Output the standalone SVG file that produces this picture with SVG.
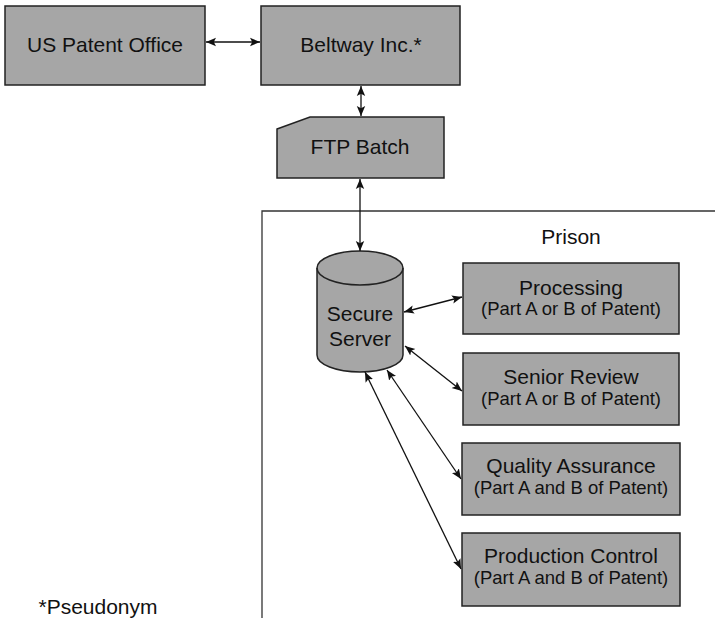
<svg xmlns="http://www.w3.org/2000/svg" width="715" height="618" viewBox="0 0 715 618">
  <defs>
    <marker id="arrow" viewBox="0 0 10 10" refX="10" refY="5" markerWidth="10" markerHeight="10" markerUnits="userSpaceOnUse" orient="auto-start-reverse">
      <path d="M0,0.8 L10,5 L0,9.2 L2.2,5 Z" fill="#111"/>
    </marker>
    <style>
      .box { fill: #a6a6a6; stroke: #222; stroke-width: 1.5; }
      .frame { fill: none; stroke: #333; stroke-width: 1.3; }
      .link { fill: none; stroke: #111; stroke-width: 1.3; marker-start: url(#arrow); marker-end: url(#arrow); }
      text { font-family: "Liberation Sans", Arial, sans-serif; fill: #111; text-anchor: middle; }
      .t { font-size: 21px; }
      .s { font-size: 18.5px; }
    </style>
  </defs>

  <!-- prison boundary -->
  <g id="prison">
    <path class="frame" d="M262,618 L262,211 L715,211"/>
    <text class="t" x="571" y="244">Prison</text>
  </g>

  <g id="us-patent-office">
    <rect class="box" x="5" y="6" width="200" height="79"/>
    <text class="t" x="105" y="52">US Patent Office</text>
  </g>

  <g id="beltway">
    <rect class="box" x="261" y="6" width="199" height="79"/>
    <text class="t" x="361" y="52">Beltway Inc.*</text>
  </g>

  <g id="ftp-batch">
    <path class="box" d="M277,129 L310,117 L444,117 L444,178 L277,178 Z"/>
    <text class="t" x="360" y="154">FTP Batch</text>
  </g>

  <g id="secure-server">
    <path class="box" d="M317,268 L317,355 A43,17 0 0 0 403,355 L403,268 A43,17 0 0 0 317,268 Z"/>
    <path fill="none" stroke="#222" stroke-width="1.5" d="M317,268 A43,17 0 0 0 403,268"/>
    <text class="t" x="360" y="321">Secure</text>
    <text class="t" x="360" y="346">Server</text>
  </g>

  <g id="processing">
    <rect class="box" x="463" y="263" width="216" height="71"/>
    <text class="t" x="571" y="295">Processing</text>
    <text class="s" x="571" y="315">(Part A or B of Patent)</text>
  </g>

  <g id="senior-review">
    <rect class="box" x="463" y="353" width="216" height="72"/>
    <text class="t" x="571" y="384">Senior Review</text>
    <text class="s" x="571" y="405">(Part A or B of Patent)</text>
  </g>

  <g id="quality-assurance">
    <rect class="box" x="462" y="443" width="218" height="72"/>
    <text class="t" x="571" y="473">Quality Assurance</text>
    <text class="s" x="571" y="494">(Part A and B of Patent)</text>
  </g>

  <g id="production-control">
    <rect class="box" x="462" y="533" width="218" height="73"/>
    <text class="t" x="571" y="563">Production Control</text>
    <text class="s" x="571" y="584">(Part A and B of Patent)</text>
  </g>

  <g id="footnote">
    <text class="t" x="98" y="614">*Pseudonym</text>
  </g>

  <!-- connectors -->
  <g id="connectors">
    <line class="link" x1="206" y1="42" x2="260" y2="42"/>
    <line class="link" x1="361" y1="86" x2="361" y2="116"/>
    <line class="link" x1="360" y1="179" x2="360" y2="251"/>
    <line class="link" x1="404" y1="312" x2="462" y2="297"/>
    <line class="link" x1="405" y1="346" x2="462" y2="391"/>
    <line class="link" x1="387" y1="370" x2="461" y2="479"/>
    <line class="link" x1="365" y1="372" x2="461" y2="569"/>
  </g>
</svg>
